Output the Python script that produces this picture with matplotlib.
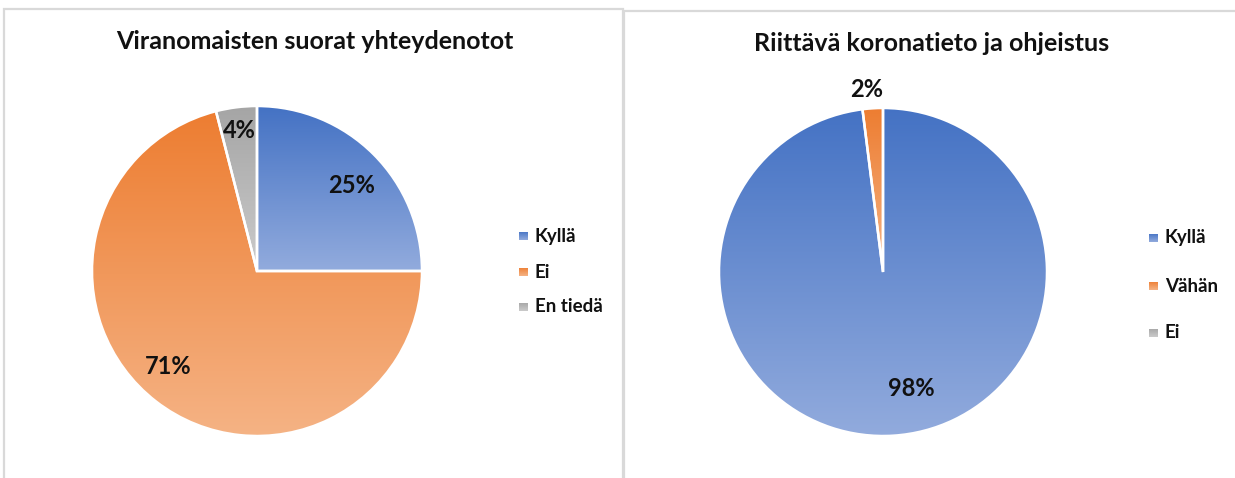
import numpy as np
import matplotlib
matplotlib.use('Agg')
import matplotlib.pyplot as plt
from matplotlib.colors import to_rgb
from matplotlib.patches import Rectangle, Wedge

plt.rcParams['font.family'] = ['Lato', 'DejaVu Sans']
plt.rcParams['font.weight'] = 'bold'

W, H = 1235, 478

# chart data
title1 = 'Viranomaisten suorat yhteydenotot'
labels1 = ['Kyllä', 'Ei', 'En tiedä']
values1 = [25, 71, 4]

title2 = 'Riittävä koronatieto ja ohjeistus'
labels2 = ['Kyllä', 'Vähän', 'Ei']
values2 = [98, 2, 0]

# gradient (top, bottom) per category colour
GRADS = [('#4472C4', '#92ABDD'), ('#ED7D31', '#F5B385'), ('#A5A5A5', '#CBCBCB')]
TXT = '#111111'


def gradient_img(top, bottom):
    t = np.linspace(0, 1, 256)[:, None]
    c0, c1 = np.array(to_rgb(bottom)), np.array(to_rgb(top))
    return (c0 * (1 - t) + c1 * t)[:, None, :]


def gradient_fill(ax, wedge, top, bottom):
    v = wedge.get_path().vertices
    x0, x1 = v[:, 0].min(), v[:, 0].max()
    y0, y1 = v[:, 1].min(), v[:, 1].max()
    if y1 - y0 < 1e-6 or x1 - x0 < 1e-6:
        return
    im = ax.imshow(gradient_img(top, bottom), extent=(x0, x1, y0, y1), origin='lower',
                   aspect='auto', interpolation='bilinear', zorder=2)
    im.set_clip_path(wedge)


def draw_pie(cx, cy, r, values, label_pos):
    pad = 6
    ax = fig.add_axes([(cx - r - pad) / W, (H - cy - r - pad) / H,
                       2 * (r + pad) / W, 2 * (r + pad) / H])
    wedges, _ = ax.pie(values, startangle=90, counterclock=False, radius=1,
                       colors=[g[0] for g in GRADS],
                       wedgeprops=dict(linewidth=0))
    for w, g in zip(wedges, GRADS):
        gradient_fill(ax, w, g[0], g[1])
        if w.theta2 - w.theta1 > 1e-6:
            ax.add_patch(Wedge(w.center, w.r, w.theta1, w.theta2, facecolor='none',
                               edgecolor='white', linewidth=1.8, zorder=3))
    tot = sum(values)
    for w, v, lp in zip(wedges, values, label_pos):
        if v == 0 or lp is None:
            continue
        dist, dang = lp
        ang = np.deg2rad((w.theta1 + w.theta2) / 2 + dang)
        ax.text(dist * np.cos(ang), dist * np.sin(ang), f'{round(100 * v / tot)}%',
                ha='center', va='center', fontsize=17, fontweight='bold',
                color=TXT, zorder=5)
    lim = 1 + pad / r
    ax.set_xlim(-lim, lim)
    ax.set_ylim(-lim, lim)
    ax.axis('off')
    return ax


def draw_legend(labels, x, ys):
    # little square swatches + bold labels, like the office-style legend
    for lab, y, g in zip(labels, ys, GRADS):
        sq = 9
        lax = fig.add_axes([(x - sq / 2) / W, (H - y - sq / 2) / H, sq / W, sq / H])
        lax.imshow(gradient_img(g[0], g[1]), extent=(0, 1, 0, 1), origin='lower',
                   aspect='auto')
        lax.axis('off')
        fig.text((x + 12) / W, 1 - y / H, lab, ha='left', va='center',
                 fontsize=13.5, fontweight='bold', color=TXT)


fig = plt.figure(figsize=(W / 100, H / 100), dpi=100)

# panel frames
fig.add_artist(Rectangle((4 / W, -0.05), 619 / W, (H - 9) / H + 0.05,
                         transform=fig.transFigure, fill=False,
                         edgecolor='#D9D9D9', linewidth=1.6))
fig.add_artist(Rectangle((624 / W, -0.05), 0.6, (H - 11) / H + 0.05,
                         transform=fig.transFigure, fill=False,
                         edgecolor='#D9D9D9', linewidth=1.6))

draw_pie(257, 271, 165, values1, [(0.77, -3), (0.79, -5), (0.86, 0)])
draw_pie(883, 272, 164, values2, [(0.73, 10), (1.12, 1.5), None])

fig.text(315 / W, 1 - 49 / H, title1, ha='center', va='baseline',
         fontsize=18, fontweight='bold', color=TXT)
fig.text(932 / W, 1 - 51 / H, title2, ha='center', va='baseline',
         fontsize=18, fontweight='bold', color=TXT)

draw_legend(labels1, 523, [236, 272, 307])
draw_legend(labels2, 1153, [238, 286, 333])

fig.savefig('out.png', dpi=100)
